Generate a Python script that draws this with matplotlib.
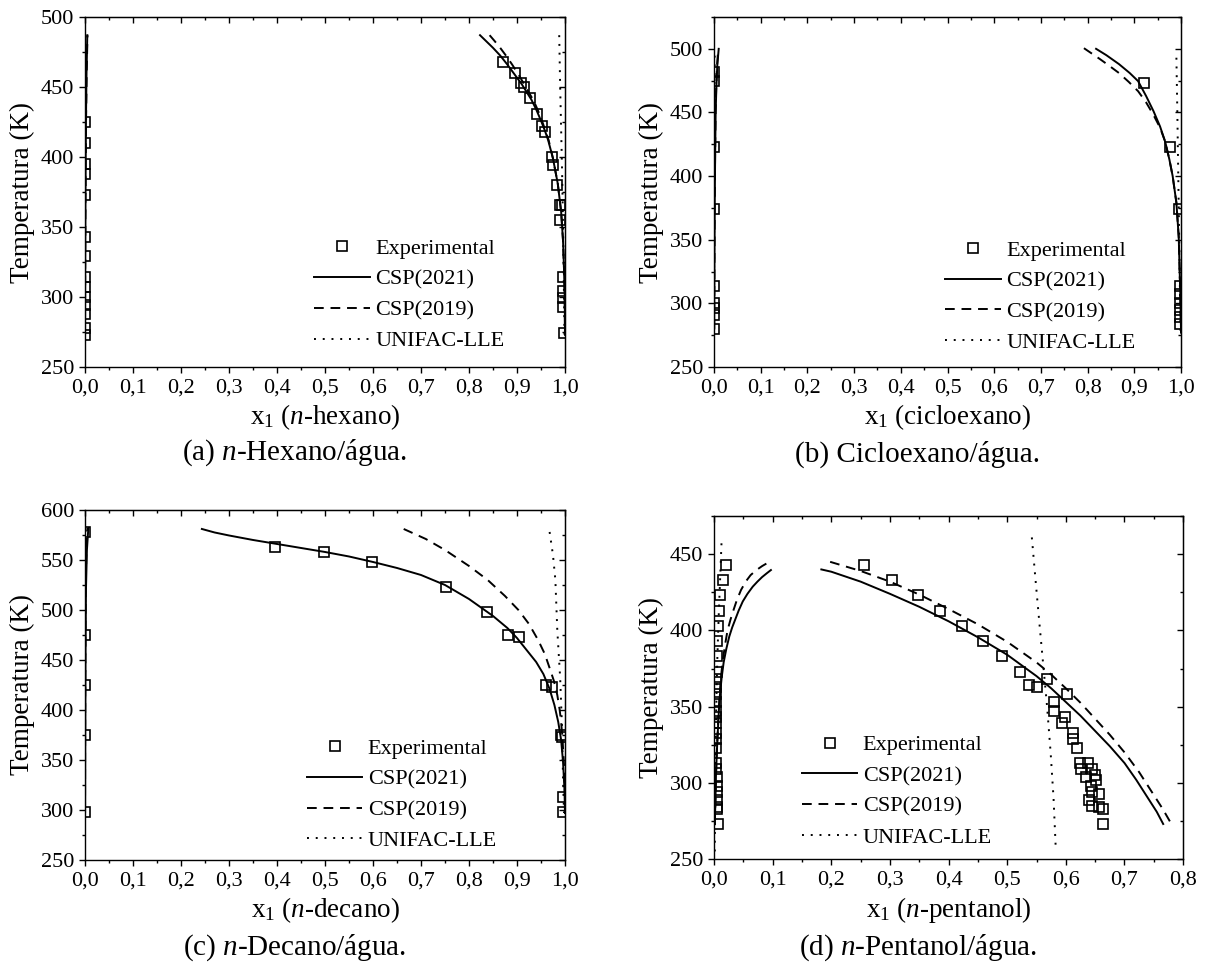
import numpy as np
import matplotlib
matplotlib.use('Agg')
from matplotlib import pyplot as plt
from matplotlib.ticker import MultipleLocator, FuncFormatter
from matplotlib.lines import Line2D

plt.rcParams['font.family'] = 'serif'
plt.rcParams['font.serif'] = ['Liberation Serif', 'DejaVu Serif']
plt.rcParams['mathtext.fontset'] = 'custom'
plt.rcParams['mathtext.rm'] = 'Liberation Serif'
plt.rcParams['mathtext.it'] = 'Liberation Serif:italic'

# ---------------- (a) n-hexano / agua ----------------
hex_exp_x = [0.0005] * 14 + [0.871, 0.895, 0.909, 0.915, 0.927, 0.942, 0.952, 0.958, 0.972, 0.976, 0.984,
                             0.989, 0.994, 0.990, 0.996, 0.996, 0.996, 0.996, 0.998]
hex_exp_T = [425, 410, 395, 388, 373, 343, 329, 314, 307, 300, 294, 288, 278, 273,
             468, 460, 453, 450, 442, 431, 422, 418, 400, 394, 380, 366, 366,
             355, 314, 304, 299, 293, 274]
hex_csp21 = [([0.0001, 0.0004, 0.0009, 0.0018, 0.0032, 0.0048], [273, 320, 370, 420, 460, 487]),
             ([0.823, 0.835, 0.85, 0.865, 0.88, 0.895, 0.91, 0.92, 0.93, 0.94, 0.95, 0.958, 0.965, 0.975,
               0.985, 0.992, 0.996, 0.998, 0.9995, 1.0],
              [487, 483, 478, 472.5, 466, 459, 452, 446.5, 441, 434, 426, 419, 412, 399, 381, 361, 340, 320,
               300, 273])]
hex_csp19 = [([0.0001, 0.0004, 0.0010, 0.0020, 0.0035, 0.0052], [273, 320, 370, 420, 460, 487]),
             ([0.843, 0.853, 0.865, 0.878, 0.89, 0.903, 0.915, 0.925, 0.935, 0.944, 0.952, 0.96, 0.966, 0.975,
               0.985, 0.992, 0.996, 0.998, 0.9995, 1.0],
              [487, 483, 478, 472, 466, 459, 452, 446, 440, 433, 426, 418, 412, 399, 381, 361, 340, 320,
               300, 273])]
hex_unifac = [([0.0, 0.0001, 0.0003, 0.0006, 0.001], [273, 330, 390, 440, 487]),
              ([0.988, 0.990, 0.992, 0.994, 0.996, 0.998, 0.999], [487, 450, 420, 390, 350, 300, 273])]

# ---------------- (b) cicloexano / agua ----------------
cic_exp_x = [0.0005] * 9 + [0.920, 0.976, 0.995, 0.997, 0.997, 0.997, 0.997, 0.997, 0.998]
cic_exp_T = [482, 475, 423, 374, 314, 300, 296, 291, 280,
             473, 423, 374, 314, 307, 300, 295, 289, 284]
cic_csp21 = [([0.0003, 0.0008, 0.0015, 0.0025, 0.0035, 0.005, 0.007, 0.010],
              [280, 330, 380, 420, 450, 470, 487, 500]),
             ([0.818, 0.84, 0.867, 0.89, 0.908, 0.925, 0.941, 0.955, 0.966, 0.975, 0.982, 0.990, 0.995, 0.998, 1.0],
              [500, 495, 488, 481, 474.6, 463, 451, 439, 427, 413, 400, 379, 352, 312, 277])]
cic_csp19 = [([0.0003, 0.0008, 0.0015, 0.0024, 0.0033, 0.0047, 0.0065, 0.009],
              [280, 330, 380, 420, 450, 470, 487, 500]),
             ([0.792, 0.81, 0.826, 0.845, 0.867, 0.888, 0.908, 0.925, 0.941, 0.955, 0.966, 0.975, 0.982, 0.990,
               0.995, 0.998, 1.0],
              [500.5, 496, 492, 487, 481, 474, 466.7, 458, 448, 438, 427, 413, 400, 379, 352, 312, 277])]
cic_unifac = [([0.0, 0.0002, 0.0005, 0.001, 0.0015], [280, 350, 420, 470, 495]),
              ([0.990, 0.992, 0.994, 0.996, 0.998, 0.999], [493, 450, 400, 350, 300, 277])]

# ---------------- (c) n-decano / agua ----------------
dec_exp_x = [0.0005] * 5 + [0.395, 0.498, 0.597, 0.752, 0.837, 0.881, 0.905, 0.960, 0.972, 0.991, 0.994,
                            0.996, 0.996]
dec_exp_T = [578, 475, 425, 375, 298,
             563, 558, 548, 523, 498, 475, 473, 425, 423, 375, 373, 313, 298]
dec_csp21 = [([0.0002, 0.0005, 0.001, 0.002, 0.004, 0.007], [298, 373, 450, 520, 560, 582]),
             ([0.2435, 0.27, 0.3, 0.35, 0.4, 0.45, 0.5, 0.55, 0.6, 0.65, 0.7, 0.75, 0.8, 0.85, 0.88, 0.9,
               0.92, 0.94, 0.955, 0.968, 0.978, 0.986, 0.992, 0.996, 0.999, 1.0],
              [581, 577.5, 574.5, 570, 566, 562, 558, 553.5, 548, 542, 535, 525, 511, 494, 482, 472,
               460, 448, 436, 421, 405, 388, 370, 348, 320, 297])]
dec_csp19 = [([0.0001, 0.0003, 0.0007, 0.0014, 0.003, 0.005], [298, 373, 450, 520, 560, 582]),
             ([0.664, 0.71, 0.75, 0.80, 0.839, 0.875, 0.903, 0.925, 0.944, 0.958, 0.968, 0.977, 0.984, 0.989,
               0.992, 0.995, 0.998, 1.0],
              [581, 571, 560, 544, 530, 514, 500, 486, 470, 456, 442, 429, 415, 400, 388, 370, 345, 314])]
dec_unifac = [([0.0, 0.0001, 0.0003, 0.0006, 0.001], [298, 380, 460, 530, 580]),
              ([0.968, 0.975, 0.980, 0.984, 0.990, 0.994, 0.996, 0.998],
               [578, 555, 530, 480, 432, 381, 331, 297])]

# ---------------- (d) n-pentanol / agua ----------------
pen_exp_x = [0.020, 0.0148, 0.0107, 0.0085, 0.0064, 0.0055, 0.0045,
             0.0045, 0.0042, 0.004, 0.0038, 0.0037, 0.0035, 0.0036, 0.0034, 0.0035, 0.0036, 0.0038, 0.004,
             0.0042, 0.0045, 0.0047, 0.005, 0.0052, 0.0055, 0.0056, 0.0072,
             0.255, 0.304, 0.347, 0.386, 0.423, 0.458, 0.491, 0.522, 0.538, 0.551, 0.568, 0.580, 0.580,
             0.602, 0.598, 0.593, 0.612, 0.613, 0.619, 0.624, 0.626, 0.635, 0.638, 0.645, 0.649, 0.651,
             0.643, 0.645, 0.657, 0.640, 0.645, 0.657, 0.663, 0.663]
pen_exp_T = [443, 433, 423, 413, 403, 393, 383,
             373, 368, 363, 358, 353, 347, 343, 339, 333, 329, 323, 313,
             309, 304, 298, 294, 289, 284, 283, 273,
             443, 433, 423, 413, 403, 393, 383, 373, 364, 363, 368, 353, 347,
             358, 343, 339, 333, 329, 323, 313, 309, 304, 313, 309, 305, 302,
             298, 294, 293, 289, 285, 284, 283, 273]
pen_csp21 = [([0.0013, 0.0025, 0.0033, 0.005, 0.0066, 0.0082, 0.0099, 0.013, 0.0164, 0.021, 0.026, 0.031,
               0.036, 0.042, 0.049, 0.057, 0.066, 0.074, 0.082, 0.09, 0.097],
              [273, 290, 305, 322, 335, 347, 357, 369, 379, 388, 396, 402, 407, 413, 419, 424, 428.7, 432,
               435, 437.5, 439.6]),
             ([0.183, 0.2, 0.25, 0.3, 0.35, 0.4, 0.45, 0.5, 0.55, 0.575, 0.6, 0.625, 0.65, 0.675, 0.7, 0.72,
               0.74, 0.755, 0.766],
              [440, 438.5, 432, 424, 415.5, 406, 395.5, 384, 370, 362, 353, 344, 334, 324, 313, 302, 290,
               281, 273])]
pen_csp19 = [([0.0013, 0.0025, 0.0033, 0.005, 0.0066, 0.0082, 0.0099, 0.012, 0.0151, 0.019, 0.023, 0.028,
               0.0329, 0.039, 0.046, 0.054, 0.0624, 0.072, 0.082, 0.09, 0.097],
              [273, 290, 305, 323, 336, 349, 359, 370, 381, 391, 400, 407, 413, 420, 426.5, 432, 436.3, 439.5,
               442.2, 444, 445.4]),
             ([0.198, 0.25, 0.3, 0.35, 0.4, 0.45, 0.5, 0.55, 0.575, 0.6, 0.625, 0.65, 0.675, 0.7, 0.725, 0.75,
               0.765, 0.78],
              [445, 439, 432, 423.5, 414, 404, 392.5, 379, 371, 362, 352.5, 342, 331.5, 320, 307, 292, 283,
               273])]
pen_unifac = [([0.0013, 0.002, 0.0035, 0.0055, 0.008, 0.011, 0.0131], [255, 300, 345, 380, 410, 440, 461]),
              ([0.542, 0.549, 0.556, 0.562, 0.568, 0.574, 0.579, 0.583], [461, 430, 400, 375, 350, 320, 290, 255])]

panels = [
    dict(exp=(hex_exp_x, hex_exp_T), c21=hex_csp21, c19=hex_csp19, uni=hex_unifac,
         xlim=(0, 1.0), ylim=(250, 500),
         rect=[0.0703, 0.622, 0.397, 0.3605], leg=(0.478, 0.045),
         xlabel=r'x$_1$ ($\it{n}$-hexano)', caption=r'(a) $\it{n}$-Hexano/água.', cap_xy=(0.2435, 0.518)),
    dict(exp=(cic_exp_x, cic_exp_T), c21=cic_csp21, c19=cic_csp19, uni=cic_unifac,
         xlim=(0, 1.0), ylim=(250, 525),
         rect=[0.5906, 0.622, 0.3863, 0.3605], leg=(0.495, 0.04),
         xlabel=r'x$_1$ (cicloexano)', caption=r'(b) Cicloexano/água.', cap_xy=(0.759, 0.518)),
    dict(exp=(dec_exp_x, dec_exp_T), c21=dec_csp21, c19=dec_csp19, uni=dec_unifac,
         xlim=(0, 1.0), ylim=(250, 600),
         rect=[0.0703, 0.1143, 0.397, 0.3605], leg=(0.462, 0.025),
         xlabel=r'x$_1$ ($\it{n}$-decano)', caption=r'(c) $\it{n}$-Decano/água.', cap_xy=(0.2435, 0.008)),
    dict(exp=(pen_exp_x, pen_exp_T), c21=pen_csp21, c19=pen_csp19, uni=pen_unifac,
         xlim=(0, 0.8), ylim=(250, 475),
         rect=[0.5906, 0.1153, 0.388, 0.3532], leg=(0.187, 0.033),
         xlabel=r'x$_1$ ($\it{n}$-pentanol)', caption=r'(d) $\it{n}$-Pentanol/água.', cap_xy=(0.759, 0.008)),
]

fig = plt.figure(figsize=(12.09, 9.71), dpi=100)
comma = FuncFormatter(lambda v, p: f'{v:.1f}'.replace('.', ','))

line_kw = dict(color='black', lw=1.4)
dash = (0, (5, 3.5))
dots = (0, (1, 3.5))
for p in panels:
    ax = fig.add_axes(p['rect'])
    ex, eT = p['exp']
    for bx, bT in p['c21']:
        ax.plot(bx, bT, ls='-', **line_kw)
    for bx, bT in p['c19']:
        ax.plot(bx, bT, ls=dash, **line_kw)
    for bx, bT in p['uni']:
        ax.plot(bx, bT, ls=dots, **line_kw)
    ax.plot(ex, eT, ls='none', marker='s', ms=7, mfc='none', mec='black', mew=1.2)

    ax.set_xlim(*p['xlim'])
    ax.set_ylim(*p['ylim'])
    ax.xaxis.set_major_locator(MultipleLocator(0.1))
    ax.xaxis.set_minor_locator(MultipleLocator(0.05))
    ax.yaxis.set_major_locator(MultipleLocator(50))
    ax.yaxis.set_minor_locator(MultipleLocator(25))
    ax.xaxis.set_major_formatter(comma)
    ax.tick_params(which='both', direction='out', labelsize=16, width=1.0)
    ax.tick_params(which='major', length=4.5)
    ax.tick_params(which='minor', length=2.5)
    for s in ax.spines.values():
        s.set_linewidth(1.0)

    # inward ticks on the top and right frame
    top = ax.secondary_xaxis('top')
    top.xaxis.set_major_locator(MultipleLocator(0.1))
    top.xaxis.set_minor_locator(MultipleLocator(0.05))
    top.tick_params(which='both', direction='in', labeltop=False, width=1.0)
    top.tick_params(which='major', length=4.5)
    top.tick_params(which='minor', length=2.5)
    right = ax.secondary_yaxis('right')
    right.yaxis.set_major_locator(MultipleLocator(50))
    right.yaxis.set_minor_locator(MultipleLocator(25))
    right.tick_params(which='both', direction='in', labelright=False, width=1.0)
    right.tick_params(which='major', length=4.5)
    right.tick_params(which='minor', length=2.5)

    ax.set_xlabel(p['xlabel'], fontsize=19.5, labelpad=4)
    ax.set_ylabel('Temperatura (K)', fontsize=19.5, labelpad=4)

    handles = [Line2D([], [], ls='none', marker='s', ms=7, mfc='none', mec='black', mew=1.2),
               Line2D([], [], ls='-', **line_kw),
               Line2D([], [], ls=dash, **line_kw),
               Line2D([], [], ls=dots, **line_kw)]
    ax.legend(handles, ['Experimental', 'CSP(2021)', 'CSP(2019)', 'UNIFAC-LLE'],
              loc='lower left', bbox_to_anchor=p['leg'], frameon=False, fontsize=16,
              handlelength=2.5, handletextpad=0.25, labelspacing=0.46, borderpad=0, borderaxespad=0)

    fig.text(p['cap_xy'][0], p['cap_xy'][1], p['caption'], ha='center', va='bottom', fontsize=21)

fig.savefig('out.png', dpi=100)
